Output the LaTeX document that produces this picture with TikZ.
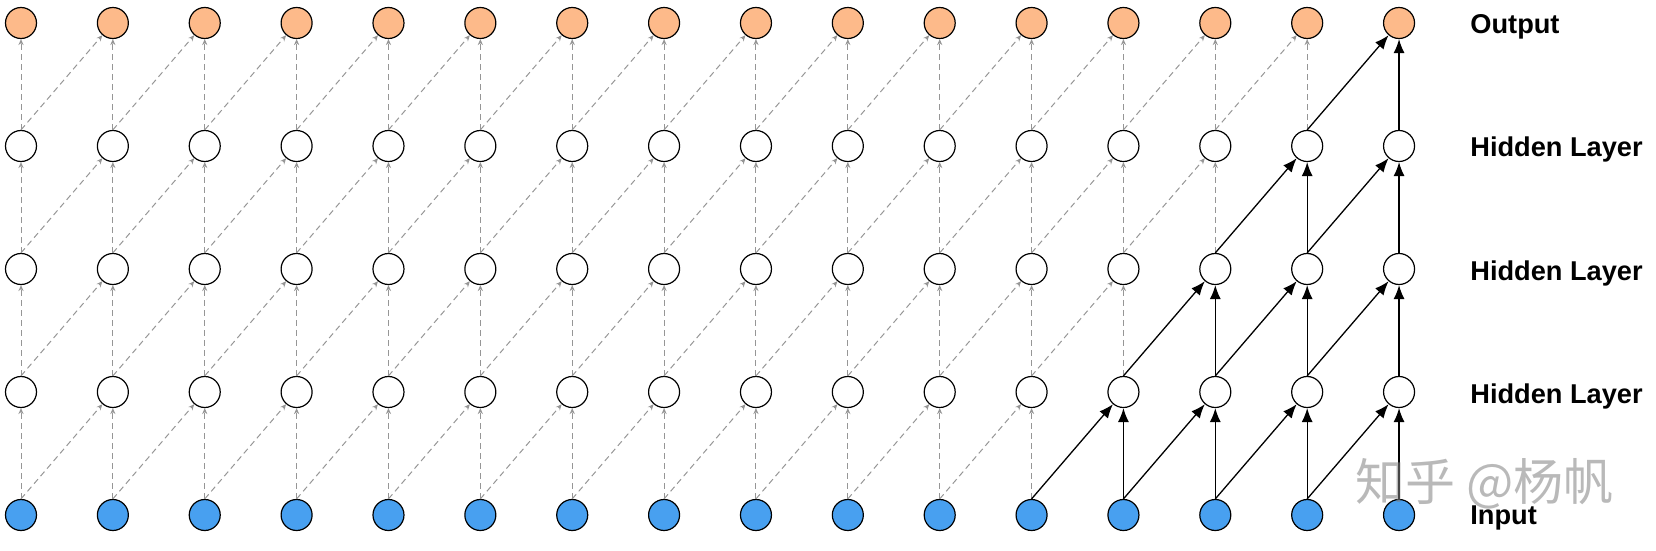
\documentclass[tikz,border=0pt]{standalone}
\usepackage{fontspec}
\setmainfont{Liberation Sans}
\newfontfamily\cjk{Noto Sans CJK SC}
\usetikzlibrary{arrows.meta}
\definecolor{inblue}{RGB}{72,160,240}
\definecolor{outorange}{RGB}{253,186,138}
\definecolor{dashgray}{RGB}{150,150,150}
\begin{document}
\begin{tikzpicture}[x=0.5pt,y=-0.5pt,
  neuron/.style={circle,draw=black,line width=0.6pt,minimum size=15.5pt,inner sep=0pt,fill=white},
  dasharrow/.style={draw=dashgray,line width=0.5pt,dash pattern=on 3pt off 2pt,-{Stealth[length=3pt,width=2.6pt,fill=dashgray]}},
  solidarrow/.style={draw=black,line width=0.65pt,-{Latex[length=7pt,width=5.5pt]}},
  layerlabel/.style={anchor=base west,inner sep=0pt,font=\bfseries\fontsize{13.6}{16}\selectfont}]
\useasboundingbox (0,0) rectangle (1656,551);
% nodes
\foreach \c in {0,...,15} {
  \node[neuron,fill=inblue] (n-\c-0) at ({21+91.87*\c},515) {};
  \node[neuron] (n-\c-1) at ({21+91.87*\c},392) {};
  \node[neuron] (n-\c-2) at ({21+91.87*\c},269) {};
  \node[neuron] (n-\c-3) at ({21+91.87*\c},146) {};
  \node[neuron,fill=outorange] (n-\c-4) at ({21+91.87*\c},23) {};
}
% connections
\foreach \c in {0,...,15} {
  \foreach \r in {0,...,3} {
    \pgfmathtruncatemacro\rr{\r+1}
    \pgfmathtruncatemacro\lim{12+\r}
    \ifnum\c<\lim
      \draw[dasharrow] (n-\c-\r.north) -- (n-\c-\rr);
    \else
      \draw[solidarrow] (n-\c-\r.north) -- (n-\c-\rr);
    \fi
    \ifnum\c<15
      \pgfmathtruncatemacro\cc{\c+1}
      \ifnum\cc<\lim
        \draw[dasharrow] (n-\c-\r.north) -- (n-\cc-\rr);
      \else
        \draw[solidarrow] (n-\c-\r.north) -- (n-\cc-\rr);
      \fi
    \fi
  }
}
% labels
\node[layerlabel] (lout) at (1470,34) {Output};
\node[layerlabel] (lh3) at (1470,157) {Hidden Layer};
\node[layerlabel] (lh2) at (1470,280) {Hidden Layer};
\node[layerlabel] (lh1) at (1470,403) {Hidden Layer};
\node[layerlabel] (lin) at (1470,524) {Input};
% watermark
\node[anchor=base west,inner sep=0pt,text=gray,opacity=0.55,font=\cjk\fontsize{25}{30}\selectfont] (wm) at (1355,500) {知乎 @杨帆};
\end{tikzpicture}
\end{document}
